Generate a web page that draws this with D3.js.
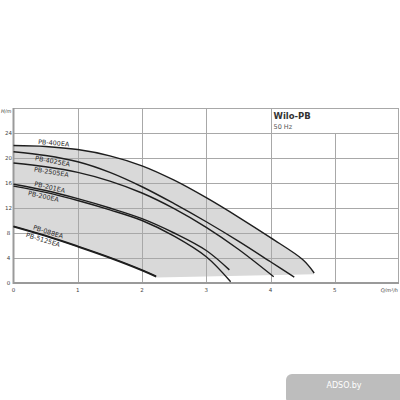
<!DOCTYPE html>
<html>
<head>
<meta charset="utf-8">
<script src="https://cdn.jsdelivr.net/npm/d3@7"></script>
<style>
  body { margin: 0; background: #fff; }
  svg text { font-family: "DejaVu Sans", sans-serif; }
</style>
</head>
<body>
<div id="canvas"></div>
<script>
// pump curves, Q in m3/h, H in m
var names = ['PB-400EA', 'PB-4025EA', 'PB-2505EA', 'PB-201EA', 'PB-200EA', 'PB-088EA', 'PB-5125EA'];
var q400 = [0, 0.5, 1, 1.5, 2, 2.5, 3, 3.5, 4, 4.5, 4.68],
    h400 = [22, 21.85, 21.35, 20.35, 18.75, 16.45, 13.65, 10.55, 7.25, 3.75, 1.6];
var q4025 = [0, 0.5, 1, 1.5, 2, 2.5, 3, 3.5, 4, 4.37],
    h4025 = [21, 20.4, 19.4, 17.7, 15.4, 12.7, 9.8, 6.7, 3.4, 0.95];
var q2505 = [0, 0.5, 1, 1.5, 2, 2.5, 3, 3.5, 4.05],
    h2505 = [19.2, 18.6, 17.7, 16.3, 14.4, 11.9, 8.9, 5.4, 1.0];
var q201 = [0, 0.5, 1, 1.5, 2, 2.5, 3, 3.36],
    h201 = [15.8, 14.8, 13.5, 12.0, 10.3, 8.0, 5.2, 2.1];
var q200 = [0, 0.5, 1, 1.5, 2, 2.5, 3, 3.38],
    h200 = [15.5, 14.5, 13.2, 11.7, 10.0, 7.5, 4.2, 0.2];
var q088 = [0, 0.5, 1, 1.5, 2, 2.22],
    h088 = [9.1, 7.6, 5.9, 4.1, 2.1, 1.1];
var q5125 = [0, 0.5, 1, 1.5, 2, 2.22],
    h5125 = [9.0, 7.5, 5.8, 4.0, 2.0, 1.0];
// lower edge of the shaded field
var qFloor = [4.68, 2.22],
    hFloor = [1.4, 0.9];

var xTicks = [0, 1, 2, 3, 4, 5],
    yTicks = [0, 4, 8, 12, 16, 20, 24];

function pts(q, h) { return q.map(function(d, i){ return [d, h[i]]; }); }
var series = [pts(q400, h400), pts(q4025, h4025), pts(q2505, h2505), pts(q201, h201),
              pts(q200, h200), pts(q088, h088), pts(q5125, h5125)];

var W = 400, H = 400;
var svg = d3.select('#canvas').append('svg').attr('width', W).attr('height', H);

var x = d3.scaleLinear().domain([0, 6]).range([13.5, 399]),
    y = d3.scaleLinear().domain([0, 28]).range([283, 108]);

var line = d3.line().x(function(d){ return x(d[0]); }).y(function(d){ return y(d[1]); })
    .curve(d3.curveCatmullRom.alpha(0.5));
var lineLin = d3.line().x(function(d){ return x(d[0]); }).y(function(d){ return y(d[1]); });

// shaded operating field
var upperEdge = series[0],
    floorEdge = pts(qFloor, hFloor),
    lowEdge = series[5].slice().reverse();
var shade = line(upperEdge) + lineLin(floorEdge).replace(/^M/, 'L') + line(lowEdge).replace(/^M/, 'L') + 'Z';
svg.append('path').attr('d', shade).attr('fill', '#d9d9d9');

// grid
var grid = svg.append('g').attr('stroke', '#a8a8a8').attr('stroke-width', 1).attr('fill', 'none');
grid.selectAll('.hg').data(yTicks.slice(1)).enter().append('line')
    .attr('x1', x(0)).attr('x2', x(6))
    .attr('y1', function(d){ return Math.round(y(d)) + 0.5; })
    .attr('y2', function(d){ return Math.round(y(d)) + 0.5; });
grid.selectAll('.vg').data(xTicks.slice(1)).enter().append('line')
    .attr('x1', function(d){ return Math.round(x(d)) + 0.5; })
    .attr('x2', function(d){ return Math.round(x(d)) + 0.5; })
    .attr('y1', y(0))
    .attr('y2', function(d){ return d == 5 ? y(24) : y(28); });
// frame top + right
grid.append('line').attr('x1', x(0)).attr('x2', x(6)).attr('y1', Math.round(y(28)) + 0.5).attr('y2', Math.round(y(28)) + 0.5);
grid.append('line').attr('x1', Math.round(x(6)) - 0.5).attr('x2', Math.round(x(6)) - 0.5).attr('y1', y(28)).attr('y2', y(0));

// axes
svg.append('line').attr('x1', x(0)).attr('x2', x(0)).attr('y1', y(28)).attr('y2', y(0) + 1)
    .attr('stroke', '#9a9a9a').attr('stroke-width', 2);
svg.append('line').attr('x1', x(0)).attr('x2', x(6)).attr('y1', y(0)).attr('y2', y(0))
    .attr('stroke', '#9a9a9a').attr('stroke-width', 2);

// curves
svg.selectAll('.curve').data(series).enter().append('path')
    .attr('class', 'curve')
    .attr('d', line)
    .attr('fill', 'none')
    .attr('stroke', '#1e1e1e')
    .attr('stroke-width', 1.4);

// curve labels
var labelAt = [0.62, 0.62, 0.6, 0.55, 0.48, 0.52, 0.48],
    labelDy = [-2, 6.5, 6.5, -2, 6.5, -2, 6.5];
function hAt(s, q) {
  for (var i = 1; i < s.length; i++) {
    if (q <= s[i][0]) {
      var t = (q - s[i-1][0]) / (s[i][0] - s[i-1][0]);
      return s[i-1][1] + t * (s[i][1] - s[i-1][1]);
    }
  }
  return s[s.length-1][1];
}
svg.selectAll('.lab').data(series).enter().append('text')
    .attr('class', 'lab')
    .attr('font-size', 6.4)
    .attr('fill', '#2a2a2a')
    .attr('text-anchor', 'middle')
    .attr('transform', function(d, i){
      var q = labelAt[i],
          px = x(q), py = y(hAt(d, q)),
          ang = Math.atan2(y(hAt(d, q + 0.2)) - y(hAt(d, q - 0.2)), x(q + 0.2) - x(q - 0.2)) * 180 / Math.PI;
      return 'translate(' + px + ',' + py + ') rotate(' + ang + ') translate(0,' + labelDy[i] + ')';
    })
    .text(function(d, i){ return names[i]; });

// tick labels
svg.selectAll('.yl').data(yTicks).enter().append('text')
    .attr('x', 8.5).attr('y', function(d){ return y(d) + 2; })
    .attr('text-anchor', 'middle').attr('font-size', 5.5).attr('fill', '#444')
    .text(function(d){ return d; });
svg.selectAll('.xl').data(xTicks).enter().append('text')
    .attr('x', function(d){ return x(d); }).attr('y', y(0) + 9)
    .attr('text-anchor', 'middle').attr('font-size', 5.5).attr('fill', '#444')
    .text(function(d){ return d; });
svg.append('text').attr('x', 1).attr('y', 113).attr('font-size', 5).attr('fill', '#444')
    .style('font-style', 'italic').text('H/m');
svg.append('text').attr('x', 398).attr('y', 292).attr('text-anchor', 'end').attr('font-size', 5)
    .attr('fill', '#444').style('font-style', 'italic').text('Q/m³/h');

// title box
svg.append('text').attr('x', x(4) + 3).attr('y', 119).attr('font-size', 8.5).attr('font-weight', 'bold')
    .attr('fill', '#333').text('Wilo-PB');
svg.append('text').attr('x', x(4) + 3).attr('y', 129).attr('font-size', 6.5)
    .attr('fill', '#555').text('50 Hz');

// watermark
svg.append('rect').attr('x', 286).attr('y', 374).attr('width', 120).attr('height', 30).attr('rx', 6)
    .attr('fill', '#bdbdbd');
svg.append('text').attr('x', 344).attr('y', 388).attr('text-anchor', 'middle').attr('font-size', 8)
    .attr('fill', '#fff').text('ADSO.by');
</script>
</body>
</html>
